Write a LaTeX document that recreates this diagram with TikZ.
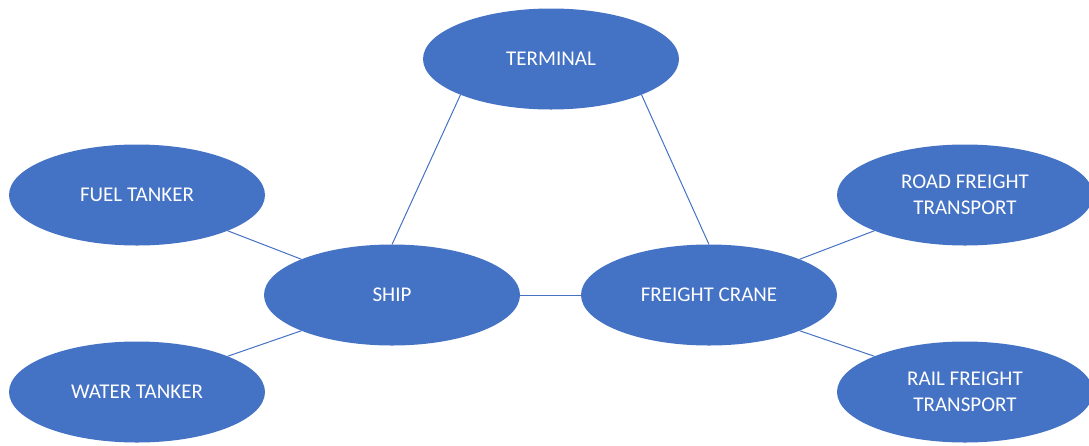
\documentclass[tikz,border=0pt]{standalone}
\usepackage{fontspec}
\setmainfont{Carlito}
\usetikzlibrary{shapes.geometric}
\definecolor{officeblue}{HTML}{4472C4}
\begin{document}
\begin{tikzpicture}[x=1pt,y=-1pt,
  bubble/.style={ellipse, fill=officeblue, draw=none, minimum width=256pt,
    minimum height=101pt, inner sep=0pt, outer sep=0pt, text=white,
    font=\fontsize{21}{25.6}\selectfont, align=center},
  link/.style={draw=officeblue, line width=1pt}]
\useasboundingbox (0,0) rectangle (1089,445);
\node[bubble] (term)  at (551,59)  {TERMINAL};
\node[bubble] (fuel)  at (137,195) {FUEL TANKER};
\node[bubble] (ship)  at (392,295) {SHIP};
\node[bubble] (crane) at (709,295) {FREIGHT CRANE};
\node[bubble] (road)  at (965,195) {ROAD FREIGHT\\TRANSPORT};
\node[bubble] (water) at (137,392) {WATER TANKER};
\node[bubble] (rail)  at (965,392) {RAIL FREIGHT\\TRANSPORT};
\draw[link] (ship.north) -- (term.south west);
\draw[link] (crane.north) -- (term.south east);
\draw[link] (fuel.south east) -- (ship.north west);
\draw[link] (water.north east) -- (ship.south west);
\draw[link] (ship.east) -- (crane.west);
\draw[link] (crane.north east) -- (road.south west);
\draw[link] (crane.south east) -- (rail.north west);
\end{tikzpicture}
\end{document}
